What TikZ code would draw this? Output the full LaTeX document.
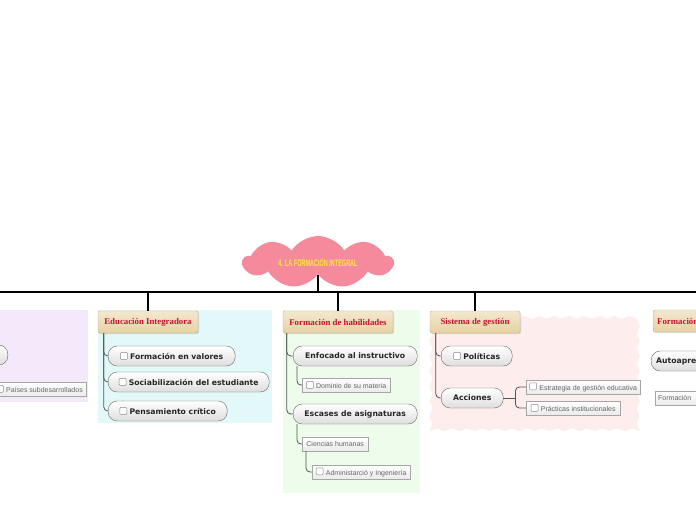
\documentclass[tikz,border=0pt]{standalone}
\usepackage{fontspec}
\setmainfont{DejaVu Sans}
\newfontfamily\topicfont{Liberation Serif}
\newfontfamily\leaffont{Liberation Sans}
\usetikzlibrary{shapes.symbols,decorations.pathmorphing,shadows}
\definecolor{petal}{HTML}{F48A9C}
\definecolor{sun}{HTML}{FFE83A}
\definecolor{crimson}{HTML}{C8102E}
\definecolor{sand}{HTML}{E6D2A2}
\definecolor{lilac}{HTML}{F4E9FA}
\definecolor{aqua}{HTML}{E3F8F8}
\definecolor{mint}{HTML}{EDFCEB}
\definecolor{blush}{HTML}{FDEDEC}
\definecolor{wire}{HTML}{555555}
\newcommand{\chkbox}{\tikz[baseline=-0.3pt]\draw[draw=black!45,fill=white,rounded corners=1pt,line width=0.5pt] (0,0) rectangle (7pt,7pt);\hspace{2.5pt}}

\begin{document}
\begin{tikzpicture}[
  x=1pt, y=-1pt,
  trunk/.style={draw=black, line width=1.3pt},
  link/.style={draw=wire, line width=0.8pt, rounded corners=4pt},
  topic/.style={draw=sand!85!black, top color=sand!50, bottom color=sand,
                rounded corners=2pt, minimum height=22, inner xsep=4,
                font=\topicfont\bfseries\fontsize{8.8}{10}\selectfont, text=crimson,
                drop shadow={opacity=0.25, shadow xshift=1pt, shadow yshift=-1pt}},
  pill/.style={draw=black!60, top color=white, bottom color=black!13,
               rounded corners=9pt, minimum height=20, inner xsep=5,
               font=\bfseries\fontsize{7.7}{9}\selectfont, text=black!85, anchor=west},
  leaf/.style={draw=black!35, top color=white, bottom color=black!8,
               minimum height=14, inner xsep=3, inner ysep=1, anchor=west,
               font=\leaffont\fontsize{7}{8}\selectfont, text=black!60},
]
\useasboundingbox (0,0) rectangle (696,520);
\clip (0,0) rectangle (696,520);
\fill[white] (0,0) rectangle (696,520);

\fill[lilac] (-5,310) rectangle (88,402);
\fill[aqua] (98,310) rectangle (272,423);
\fill[mint] (283,310) rectangle (420,493);
\fill[blush, decorate, decoration={snake, amplitude=1.4pt, segment length=15pt}]
  (431,314) rectangle (644,424);

\node[cloud, cloud puffs=9, cloud puff arc=115, aspect=3.4, fill=petal,
      minimum width=150, minimum height=46, inner sep=0,
      font=\leaffont\bfseries\fontsize{9.5}{10}\selectfont, text=sun] (root) at (318,262)
  {\scalebox{0.58}[1]{4. LA FORMACIÓN INTEGRAL}};

\coordinate (barL) at (0,292);
\coordinate (barR) at (696,292);

\node[topic, minimum width=100] (edu) at (148,322) {Educación Integradora};
\node[topic, minimum width=110] (hab) at (338,322) {Formación de habilidades};
\node[topic, minimum width=90] (sis) at (475,322) {Sistema de gestión};
\node[topic, anchor=west] (fin) at (653,321) {Formación};

\draw[trunk] (barL) -- (barR);
\draw[trunk] (root.south) -- (root.south |- barL);
\foreach \t in {edu,hab,sis}
  \draw[trunk] (\t.north) -- (\t.north |- barL);

\node[pill, minimum width=80, anchor=east] (lft) at (8,355) {};
\node[leaf, anchor=east] (pai) at (86,389) {\chkbox Países subdesarrollados};

\node[pill, minimum width=127] (val) at (108,356) {\chkbox Formación en valores};
\node[pill, minimum width=161] (soc) at (108,382) {\chkbox Sociabilización del estudiante};
\node[pill, minimum width=119] (pen) at (108,411) {\chkbox Pensamiento crítico};
\foreach \c in {val,soc,pen}
  \draw[link] ([xshift=6]edu.south west) |- (\c.west);

\node[pill, minimum width=124] (enf) at (293,356) {Enfocado al instructivo};
\node[leaf, minimum width=88] (dom) at (302,385) {\chkbox Dominio de su materia};
\node[pill, minimum width=124] (esc) at (293,414) {Escases de asignaturas};
\node[leaf, minimum width=66] (cie) at (302,444) {Ciencias humanas};
\node[leaf, minimum width=98] (adm) at (312,472) {\chkbox Administarció y Ingeniería};
\foreach \c in {enf,esc}
  \draw[link] ([xshift=4]hab.south west) |- (\c.west);
\draw[link] ([xshift=4]enf.south west) |- (dom.west);
\draw[link] ([xshift=4]esc.south west) |- (cie.west);
\draw[link] ([xshift=4]cie.south west) |- (adm.west);

\node[pill, minimum width=71] (pol) at (441,356) {\chkbox Políticas};
\node[pill, minimum width=62] (acc) at (441,398) {Acciones};
\node[leaf, minimum width=114] (est) at (526,387) {\chkbox Estrategia de gestión educativa};
\node[leaf, minimum width=94] (pra) at (526,408) {\chkbox Prácticas institucionales};
\foreach \c in {pol,acc}
  \draw[link] ([xshift=6]sis.south west) |- (\c.west);
\coordinate (fork) at ([xshift=12]acc.east);
\draw[link] (acc.east) -- (fork);
\draw[link] (fork) |- (est.west);
\draw[link] (fork) |- (pra.west);

\node[pill, minimum width=80] (auto) at (651,361) {Autoaprendizaje};
\node[leaf, text width=74, align=left] (frm) at (655,398) {Formación};
\end{tikzpicture}
\end{document}
